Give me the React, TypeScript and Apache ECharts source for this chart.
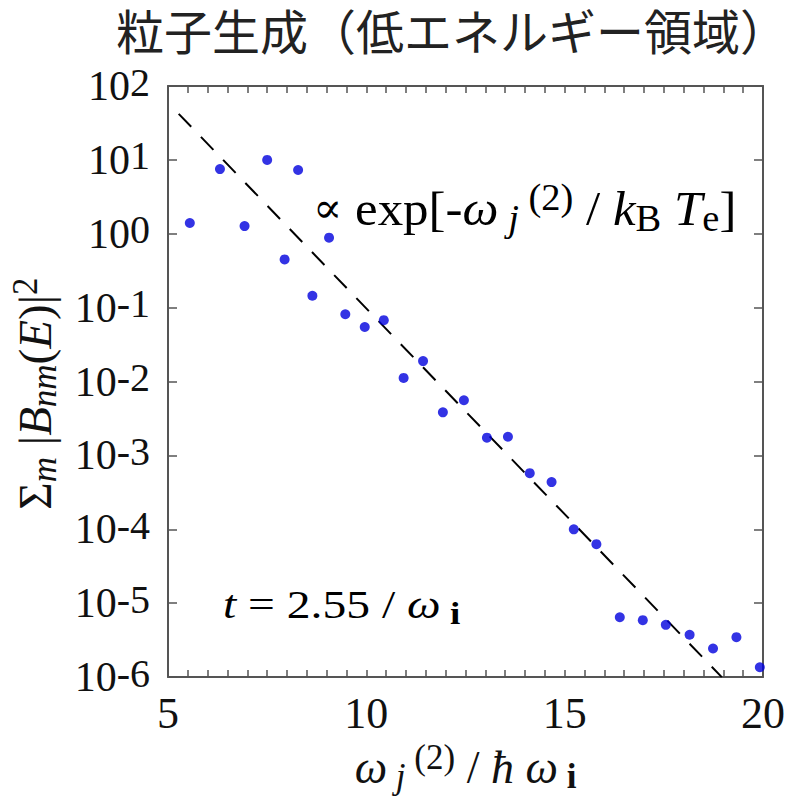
import React, { useEffect, useRef } from "react";
import * as echarts from "echarts";

// ---- data ----
const omegaX = [5.55, 6.31, 6.93, 7.5, 7.94, 8.28, 8.64, 9.06, 9.47, 9.96, 10.44, 10.94, 11.43, 11.93, 12.46, 13.04, 13.57, 14.12, 14.67, 15.23, 15.8, 16.39, 16.97, 17.55, 18.15, 18.74, 19.33, 19.92];
const sumB = [1.4, 7.5, 1.27, 10, 0.45, 7.3, 0.145, 0.885, 0.0815, 0.0547, 0.0678, 0.0112, 0.0189, 0.00383, 0.00558, 0.00174, 0.00179, 0.000575, 0.000436, 1.0e-4, 6.3e-5, 6.45e-6, 5.9e-6, 5.1e-6, 3.74e-6, 2.44e-6, 3.47e-6, 1.36e-6];
const fitX = [5.27, 18.96];
const fitY = [42, 1.0e-6];
const xMin = 5;
const xMax = 20;
const yMin = 1e-6;
const yMax = 100;

const titleText = "粒子生成（低エネルギー領域）";

const SERIF = "'Liberation Serif', 'DejaVu Serif', serif";
const CJK = "'Noto Sans CJK JP', 'Noto Sans CJK SC', sans-serif";

const AXIS_COLOR = "#555";
const INK = "#111";

export default function App() {
  const ref = useRef<HTMLDivElement>(null);
  useEffect(() => {
    if (!ref.current) return;
    const chart = echarts.init(ref.current, undefined, { renderer: "svg" });

    const tickLabelRich = {
      a: { fontFamily: SERIF, fontSize: 42, lineHeight: 48, verticalAlign: "middle", color: INK },
      s: { fontFamily: SERIF, fontSize: 40, lineHeight: 30, verticalAlign: "top", color: INK },
    };

    const nameRich = (main: number, small: number, lh: number, subLh: number, supLh: number) => ({
      n: { fontFamily: SERIF, fontSize: main, lineHeight: lh, verticalAlign: "middle", color: INK },
      p: { fontFamily: "'DejaVu Serif', serif", fontSize: main * 0.85, lineHeight: lh, verticalAlign: "middle", color: INK },
      i: { fontFamily: SERIF, fontSize: main, fontStyle: "italic", lineHeight: lh, verticalAlign: "middle", color: INK },
      si: { fontFamily: SERIF, fontSize: small, fontStyle: "italic", lineHeight: subLh, verticalAlign: "bottom", color: INK },
      sn: { fontFamily: SERIF, fontSize: small, lineHeight: subLh, verticalAlign: "bottom", color: INK },
      sb: { fontFamily: SERIF, fontSize: small, fontWeight: "bold", lineHeight: subLh, verticalAlign: "bottom", color: INK },
      sup: { fontFamily: SERIF, fontSize: small, lineHeight: supLh, verticalAlign: "top", color: INK },
    });

    const xAxisBase = {
      type: "value",
      min: xMin,
      max: xMax,
      interval: 5,
      axisLine: { show: true, lineStyle: { color: AXIS_COLOR, width: 2 } },
      axisTick: { show: true, inside: true, length: 7, lineStyle: { color: AXIS_COLOR, width: 1.5 } },
      minorTick: { show: true, splitNumber: 10, length: 7, lineStyle: { color: AXIS_COLOR, width: 1.5 } },
      splitLine: { show: false },
    };
    const yAxisBase = {
      type: "log",
      logBase: 10,
      min: yMin,
      max: yMax,
      interval: 1,
      axisLine: { show: true, lineStyle: { color: AXIS_COLOR, width: 2 } },
      axisTick: { show: true, inside: true, length: 9, lineStyle: { color: AXIS_COLOR, width: 1.5 } },
      minorTick: { show: false },
      splitLine: { show: false },
    };

    const option: any = {
      animation: false,
      backgroundColor: "#fff",
      grid: { left: 166, top: 86, width: 597, height: 600, containLabel: false },
      xAxis: [
        {
          ...xAxisBase,
          position: "bottom",
          axisLabel: {
            show: true,
            margin: 14,
            fontFamily: SERIF,
            fontSize: 44,
            color: INK,
          },
          name: "{i|ω}{si| j}{sup| (2)}{n| / }{i|ħ ω}{sb| i}",
          nameLocation: "middle",
          nameGap: 52,
          nameTextStyle: { rich: nameRich(46, 35, 54, 26, 38) },
        },
        {
          ...xAxisBase,
          position: "top",
          axisLabel: { show: false },
        },
      ],
      yAxis: [
        {
          ...yAxisBase,
          position: "left",
          axisLabel: {
            show: true,
            margin: 18,
            formatter: (v: number) => {
              const e = Math.round(Math.log10(v));
              return "{a|10}{s|" + e + "}";
            },
            rich: tickLabelRich,
          },
          name: "{n|Σ}{si|m}{n| |}{i|B}{si|nm}{n|(}{i|E}{n|)|}{sup|2}",
          nameLocation: "middle",
          nameGap: 106,
          nameRotate: 90,
          nameTextStyle: { rich: nameRich(47, 35, 54, 30, 30), padding: [0, 24, 0, 0] },
        },
        {
          ...yAxisBase,
          position: "right",
          axisLabel: { show: false },
        },
      ],
      graphic: [
        {
          type: "text",
          x: 116,
          y: 5,
          style: {
            text: titleText,
            fontFamily: CJK,
            fontSize: 48,
            fill: "#222",
            align: "left",
            verticalAlign: "top",
          },
        },
        {
          type: "text",
          x: 313,
          y: 208,
          scaleX: 1.04,
          style: {
            text: "{p|∝}{n| exp[-}{i|ω}{si| j}{sup| (2)}{n| / }{i|k}{sn|B}{i| T}{sn|e}{n|]}",
            verticalAlign: "middle",
            rich: nameRich(49, 37, 58, 30, 40),
          },
        },
        {
          type: "text",
          x: 223,
          y: 604,
          scaleX: 1.16,
          style: {
            text: "{i|t}{n| = 2.55 / }{i|ω}{sb| i}",
            verticalAlign: "middle",
            rich: nameRich(41, 32, 50, 24, 34),
          },
        },
      ],
      series: [
        {
          type: "line",
          xAxisIndex: 0,
          yAxisIndex: 0,
          data: fitX.map((x, i) => [x, fitY[i]]),
          showSymbol: false,
          symbol: "none",
          lineStyle: { color: "#000", width: 2, type: [18, 14] },
          clip: true,
          z: 2,
        },
        {
          type: "scatter",
          xAxisIndex: 0,
          yAxisIndex: 0,
          data: omegaX.map((x, i) => [x, sumB[i]]),
          symbol: "circle",
          symbolSize: 10,
          itemStyle: { color: "#0000dd" },
          z: 3,
        },
      ],
    };
    chart.setOption(option);
    return () => chart.dispose();
  }, []);

  return (
    <div
      ref={ref}
      style={{ position: "absolute", left: 0, top: 0, width: 790, height: 799, background: "#fff" }}
    />
  );
}
